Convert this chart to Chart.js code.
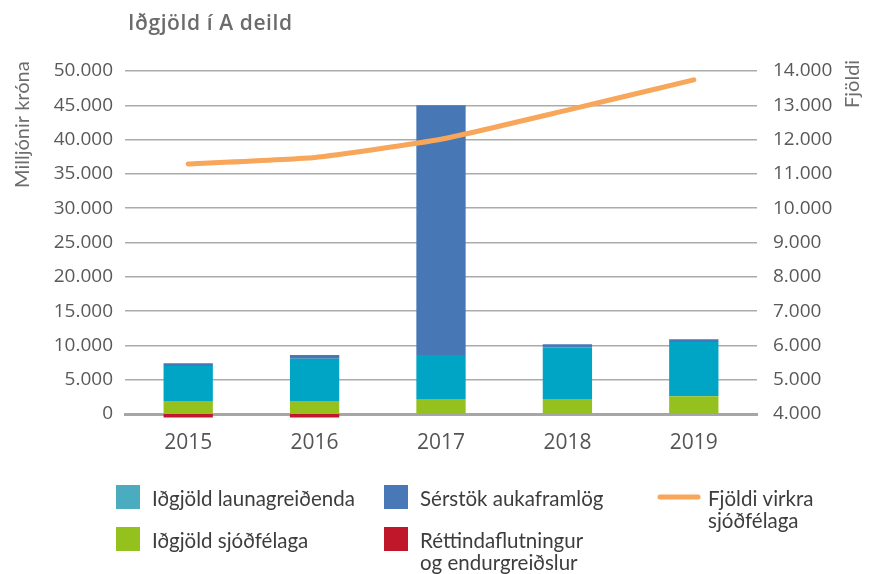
<!DOCTYPE html>
<html><head><meta charset="utf-8">
<script src="https://cdn.jsdelivr.net/npm/chart.js@4"></script>
<style>html,body{margin:0;padding:0;background:#fff}#wrap{position:relative;width:873px;height:574px}</style>
</head><body><div id="wrap"><canvas id="c"></canvas></div>
<script>
// ---- data ----
const years = ['2015', '2016', '2017', '2018', '2019'];
const idgjoldSjodfelaga = [1900, 1900, 2200, 2200, 2600];
const idgjoldLaunagreidenda = [5100, 6150, 6400, 7500, 7900];
const serstokAukaframlog = [400, 550, 36400, 450, 400];
const rettindaflutningur = [-500, -500, 0, 0, 0];
const fjoldiVirkra = [11290, 11480, 12010, 12860, 13740];
const leftAxis = { min: 0, max: 50000, step: 5000 };
const rightAxis = { min: 4000, max: 14000, step: 1000 };
const chartTitle = 'Iðgjöld í A deild';
const leftTitle = 'Milljónir króna';
const rightTitle = 'Fjöldi';
const seriesNames = ['Fjöldi virkra\nsjóðfélaga', 'Iðgjöld sjóðfélaga', 'Iðgjöld launagreiðenda', 'Sérstök aukaframlög', 'Réttindaflutningur\nog endurgreiðslur'];

// ---- styles ----
const barColors = ['#f7a65a', '#95c11f', '#00a4c4', '#4778b5', '#c0172b'];
const legendColors = ['#f7a65a', '#95c11f', '#4bacc0', '#4878b6', '#c0172b'];
const fmt = v => String(v).replace(/\B(?=(\d{3})+(?!\d))/g, '.');

const decor = {
  id: 'decor',
  afterDraw(chart) {
    const ctx = chart.ctx;
    ctx.save();
    ctx.textAlign = 'left';
    ctx.textBaseline = 'alphabetic';
    ctx.fillStyle = '#6b6b6b';
    ctx.font = '600 21px "Open Sans"';
    ctx.letterSpacing = '0.6px';
    ctx.fillText(chartTitle, 128, 30);
    ctx.letterSpacing = '0px';
    ctx.font = '20px Lato';
    ctx.fillStyle = '#6d6d6d';
    ctx.save(); ctx.translate(29, 188); ctx.rotate(-Math.PI / 2); ctx.fillText(leftTitle, 0, 0); ctx.restore();
    ctx.save(); ctx.translate(859, 108); ctx.rotate(-Math.PI / 2); ctx.fillText(rightTitle, 0, 0); ctx.restore();
    // legend
    const cols = [116, 384, 658];
    const rows = [485, 527];
    const layout = [[2, 0, 0], [3, 1, 0], [0, 2, 0], [1, 0, 1], [4, 1, 1]];
    ctx.font = '20.5px Lato';
    layout.forEach(([di, c, r]) => {
      const x = cols[c], y = rows[r];
      const ds = chart.data.datasets[di];
      let tx;
      if (ds.type === 'line') {
        ctx.strokeStyle = legendColors[di]; ctx.lineWidth = 5; ctx.lineCap = 'round';
        ctx.beginPath(); ctx.moveTo(x + 2, y + 12); ctx.lineTo(x + 40, y + 12); ctx.stroke();
        tx = x + 50;
      } else {
        ctx.fillStyle = legendColors[di];
        ctx.fillRect(x, y, 24, 24);
        tx = x + 36;
      }
      ctx.fillStyle = '#3d3d3d';
      seriesNames[di].split('\n').forEach((line, i) => ctx.fillText(line, tx, y + 21 + i * 21.5));
    });
    ctx.restore();
  }
};

const datasets = [
  { type: 'line', label: seriesNames[0], data: fjoldiVirkra, yAxisID: 'y1', borderColor: barColors[0], borderWidth: 5,
    pointRadius: 0, tension: 0.15, borderCapStyle: 'round', fill: false },
  { type: 'bar', label: seriesNames[1], data: idgjoldSjodfelaga, backgroundColor: barColors[1], stack: 's', yAxisID: 'y' },
  { type: 'bar', label: seriesNames[2], data: idgjoldLaunagreidenda, backgroundColor: barColors[2], stack: 's', yAxisID: 'y' },
  { type: 'bar', label: seriesNames[3], data: serstokAukaframlog, backgroundColor: barColors[3], stack: 's', yAxisID: 'y' },
  { type: 'bar', label: seriesNames[4], data: rettindaflutningur, backgroundColor: barColors[4], stack: 's', yAxisID: 'y', clip: false }
];

new Chart(document.getElementById('c'), {
  data: { labels: years, datasets },
  options: {
    responsive: true, maintainAspectRatio: false, animation: false,
    barPercentage: 0.39, categoryPercentage: 1,
    layout: { padding: { top: 71, left: 0, right: 0, bottom: 0 } },
    plugins: { legend: { display: false }, tooltip: { enabled: false } },
    scales: {
      x: {
        stacked: true, z: 1,
        grid: { display: false, drawTicks: false },
        border: { display: true, color: '#a6a6a6', width: 3 },
        ticks: { color: '#555555', font: { family: '"Open Sans"', size: 21 }, padding: 16 },
        afterFit: s => { s.height = 160; }
      },
      y: {
        stacked: true, position: 'left', min: leftAxis.min, max: leftAxis.max,
        grid: { color: '#ababab', lineWidth: c => (c.tick && c.tick.value === 0 ? 0 : 1.5), drawTicks: false },
        border: { display: false },
        ticks: { stepSize: leftAxis.step, color: '#595959', font: { family: '"Open Sans"', size: 19 }, padding: 12, callback: v => fmt(v) },
        afterFit: s => { s.width = 125; }
      },
      y1: {
        position: 'right', min: rightAxis.min, max: rightAxis.max,
        grid: { display: false, drawTicks: false },
        border: { display: false },
        ticks: { stepSize: rightAxis.step, color: '#595959', font: { family: '"Open Sans"', size: 19 }, padding: 16, callback: v => fmt(v) },
        afterFit: s => { s.width = 116; }
      }
    }
  },
  plugins: [decor]
});
</script></body></html>
